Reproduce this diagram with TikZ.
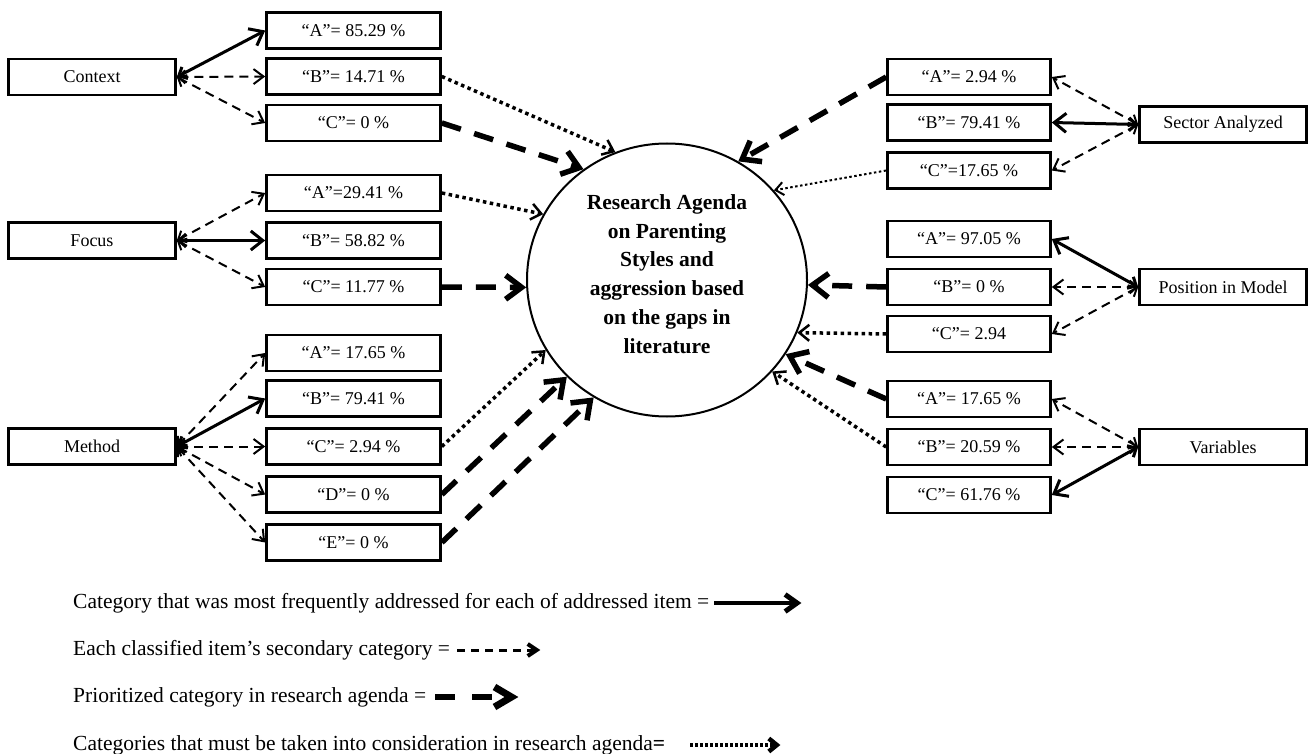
\documentclass[tikz,border=0pt]{standalone}
\usepackage{fontspec}
\setmainfont{Liberation Serif}
\usetikzlibrary{arrows.meta,shapes.geometric}
\begin{document}
\begin{tikzpicture}
[x=1pt,y=-1pt,
  boxdecorate/.style={shape=rectangle,draw,line width=2.6pt,inner sep=0pt,
    minimum height=36pt,font=\fontsize{18}{20}\selectfont},
  sourcebox/.style={boxdecorate,minimum width=167pt},
  leftbox/.style={boxdecorate,minimum width=174pt},
  rightbox/.style={boxdecorate,minimum width=163pt},
  mostline/.style={line width=3pt,
    {Straight Barb[length=7pt,width=13pt]}-{Straight Barb[length=12pt,width=19pt]}},
  secondline/.style={line width=2pt,dash pattern=on 9pt off 6pt,
    {Straight Barb[length=7pt,width=13pt]}-{Straight Barb[length=10pt,width=15pt]}},
  priorline/.style={line width=5.5pt,dash pattern=on 20pt off 14pt,
    -{Straight Barb[length=16pt,width=24pt]}},
  considerline/.style={line width=3.5pt,dash pattern=on 3.5pt off 3.5pt,
    -{Straight Barb[length=10pt,width=16pt,line width=2.5pt]}},
  considerthin/.style={line width=2pt,dash pattern=on 2.5pt off 2.5pt,
    -{Straight Barb[length=8pt,width=13pt]}},
  legendtext/.style={anchor=west,inner sep=0pt,font=\fontsize{21.5}{24}\selectfont}]
\useasboundingbox (0,0) rectangle (1310,754);
%% item boxes
\foreach \nodename/\x/\y/\txt in {ctx/92/77/Context, foc/92/240.5/Focus,
  met/92/446.5/Method, sec/1223/124.5/Sector Analyzed,
  pos/1223/287/Position in Model, var/1223/447/Variables} {
  \node (\nodename) at (\x,\y) [sourcebox] {\txt};
}
%% category boxes, left
\foreach \nodename/\y/\txt in {ctxa/30.5/“A”= 85.29 \%, ctxb/76.5/“B”= 14.71 \%,
  ctxc/123/“C”= 0 \%, foca/193/“A”=29.41 \%, focb/240.5/“B”= 58.82 \%,
  focc/287/“C”= 11.77 \%, meta/353/“A”= 17.65 \%, metb/398.5/“B”= 79.41 \%,
  metc/446.5/“C”= 2.94 \%, metd/494.5/“D”= 0 \%, mete/542.5/“E”= 0 \%} {
  \node (\nodename) at (353.5,\y) [leftbox] {\txt};
}
%% category boxes, right
\foreach \nodename/\y/\txt in {seca/77/“A”= 2.94 \%, secb/122.5/“B”= 79.41 \%,
  secc/170.5/“C”=17.65 \%, posa/239/“A”= 97.05 \%, posb/287/“B”= 0 \%,
  posc/334/“C”= 2.94, vara/399/“A”= 17.65 \%, varb/447/“B”= 20.59 \%,
  varc/495/“C”= 61.76 \%} {
  \node (\nodename) at (969,\y) [rightbox] {\txt};
}
%% agenda
\node (agenda) at (667,280) [shape=ellipse,draw,line width=2pt,inner sep=0pt,
  minimum width=280pt,minimum height=273pt] {};
\node (agendatext) at (667,274) [align=center,
  font=\bfseries\fontsize{21.5}{28.7}\selectfont]
  {Research Agenda\\on Parenting\\Styles and\\aggression based\\on the gaps in\\literature};
%% items to categories
\path
\foreach \startnode/\endnode/\kind in {ctx.east/ctxa.west/mostline,
  ctx.east/ctxb.west/secondline, ctx.east/ctxc.west/secondline,
  foc.east/foca.west/secondline, foc.east/focb.west/mostline,
  foc.east/focc.west/secondline, met.east/meta.west/secondline,
  met.east/metb.west/mostline, met.east/metc.west/secondline,
  met.east/metd.west/secondline, met.east/mete.west/secondline,
  sec.west/seca.east/secondline, sec.west/secb.east/mostline,
  sec.west/secc.east/secondline, pos.west/posa.east/mostline,
  pos.west/posb.east/secondline, pos.west/posc.east/secondline,
  var.west/vara.east/secondline, var.west/varb.east/secondline,
  var.west/varc.east/mostline} {
  (\startnode) edge[\kind] (\endnode)
};
%% categories to agenda
\path
\foreach \startnode/\endnode/\kind in {ctxb.east/agenda.112/considerline,
  ctxc.east/agenda.127/priorline, foca.east/agenda.152/considerline,
  focc.east/agenda.183/priorline, metc.east/agenda.210/considerline,
  metd.east/agenda.224/priorline, mete.east/agenda.238/priorline,
  seca.west/agenda.59/priorline, secc.west/agenda.40/considerthin,
  posb.west/agenda.358/priorline, posc.west/agenda.338/considerline,
  vara.west/agenda.328/priorline, varb.west/agenda.319/considerline} {
  (\startnode) edge[\kind] (\endnode)
};
%% legend
\node (legmost) at (73,603) [legendtext]
  {Category that was most frequently addressed for each of addressed item =};
\node (legsecond) at (73,650) [legendtext] {Each classified item’s secondary category =};
\node (legprior) at (73,697) [legendtext] {Prioritized category in research agenda =};
\node (legconsider) at (73,745) [legendtext]
  {Categories that must be taken into consideration in research agenda\textbf{=}};
\coordinate (lma) at ([xshift=5pt]legmost.east);
\coordinate (lmb) at ([xshift=92pt]legmost.east);
\coordinate (lsa) at ([xshift=7pt]legsecond.east);
\coordinate (lsb) at ([xshift=90pt]legsecond.east);
\coordinate (lpa) at ([xshift=9pt]legprior.east);
\coordinate (lpb) at ([xshift=92pt]legprior.east);
\coordinate (lca) at ([xshift=25pt]legconsider.east);
\coordinate (lcb) at ([xshift=115pt]legconsider.east);
\draw[line width=4pt,-{Straight Barb[length=12pt,width=17pt,line width=5pt]}] (lma) -- (lmb);
\draw[line width=3pt,dash pattern=on 8pt off 6pt,
  -{Straight Barb[length=9pt,width=12pt,line width=4pt]}] (lsa) -- (lsb);
\draw[line width=6pt,dash pattern=on 20pt off 17pt,
  -{Straight Barb[length=17pt,width=20pt,line width=7pt]}] (lpa) -- (lpb);
\draw[line width=3.5pt,dash pattern=on 2.5pt off 2.5pt,
  -{Straight Barb[length=8pt,width=13pt,line width=4.5pt]}] (lca) -- (lcb);
\end{tikzpicture}
\end{document}
